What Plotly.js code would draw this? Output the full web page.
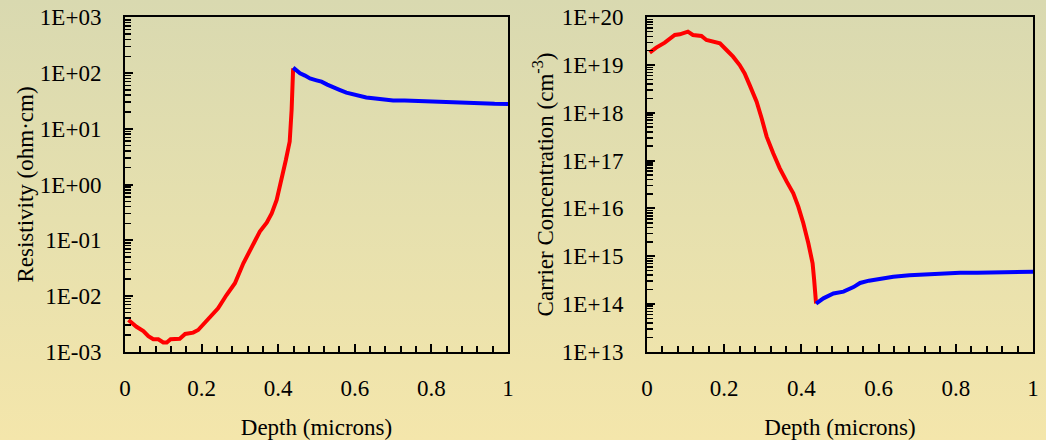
<!DOCTYPE html>
<html>
<head>
<meta charset="utf-8">
<script src="https://cdn.plot.ly/plotly-3.0.1.min.js"></script>
<style>
html,body{margin:0;padding:0;}
body{width:1046px;height:440px;background:linear-gradient(to bottom,#d9d9b0 0%,#e6e0ae 50%,#f4e6ab 100%);}
#chart{width:1046px;height:440px;}
</style>
</head>
<body>
<div id="chart"></div>
<script>
// Resistivity (ohm·cm) vs depth (microns)
const resRedX = [0.009,0.030,0.048,0.061,0.074,0.087,0.100,0.109,0.119,0.143,0.157,0.178,0.191,0.209,0.230,0.243,0.265,0.287,0.309,0.330,0.352,0.370,0.383,0.396,0.409,0.420,0.430,0.435,0.439];
const resRedY = [3.7e-3,2.8e-3,2.35e-3,1.9e-3,1.67e-3,1.67e-3,1.46e-3,1.46e-3,1.67e-3,1.71e-3,2.08e-3,2.2e-3,2.45e-3,3.3e-3,4.9e-3,6.0e-3,1.04e-2,1.69e-2,3.85e-2,7.2e-2,1.43e-1,2.07e-1,3.04e-1,5.3e-1,1.2,2.75,5.9,21.7,122];
const resBlueX = [0.439,0.457,0.470,0.483,0.500,0.513,0.528,0.543,0.560,0.578,0.595,0.613,0.630,0.648,0.675,0.700,0.730,0.761,0.785,0.804,0.840,0.874,0.905,0.935,0.965,1.0];
const resBlueY = [125,99,90,80,74,70,62,55,50,44.5,41.5,38.8,36.5,35.2,33.5,32.0,32.3,31.6,30.8,30.3,29.9,29.4,28.8,28.2,28.0,27.9];

// Carrier concentration (cm^-3) vs depth (microns)
const ccRedX = [0.007,0.024,0.046,0.072,0.085,0.106,0.119,0.141,0.154,0.171,0.189,0.206,0.223,0.240,0.253,0.266,0.284,0.297,0.310,0.327,0.344,0.362,0.379,0.392,0.405,0.418,0.429,0.433,0.438];
const ccRedY = [1.82e19,2.32e19,2.95e19,4.27e19,4.4e19,5.0e19,4.27e19,4.07e19,3.35e19,3.09e19,2.86e19,2.07e19,1.5e19,1.0e19,6.7e18,3.8e18,1.71e18,7.7e17,3.18e17,1.42e17,6.9e16,3.63e16,2.07e16,1.09e16,4.9e15,1.86e15,7.1e14,3.2e14,1.02e14];
const ccBlueX = [0.438,0.457,0.483,0.509,0.535,0.552,0.575,0.595,0.615,0.638,0.680,0.725,0.770,0.811,0.855,0.898,0.950,1.0];
const ccBlueY = [1.02e14,1.31e14,1.66e14,1.81e14,2.25e14,2.75e14,3.07e14,3.27e14,3.5e14,3.72e14,4.0e14,4.24e14,4.35e14,4.52e14,4.5e14,4.59e14,4.65e14,4.74e14];

const resTickVals = [1e-3,1e-2,1e-1,1,1e1,1e2,1e3];
const resTickText = ["1E-03","1E-02","1E-01","1E+00","1E+01","1E+02","1E+03"];
const ccTickVals = [1e13,1e14,1e15,1e16,1e17,1e18,1e19,1e20];
const ccTickText = ["1E+13","1E+14","1E+15","1E+16","1E+17","1E+18","1E+19","1E+20"];
const xTickVals = [0,0.2,0.4,0.6,0.8,1];
const xTickText = ["0","0.2","0.4","0.6","0.8","1"];

function minorLog(lo, hi){
  const out=[];
  for(let e=lo;e<hi;e++){for(let m=2;m<=9;m++){out.push(m*Math.pow(10,e));}}
  return out;
}
const xMinor=[];
for(let i=0;i<=25;i++){xMinor.push(i*0.04);}

const FONT = "Liberation Serif";
const RED = "#ff0000", BLUE = "#0000ff";

const traces = [
  {x:resRedX,y:resRedY,xaxis:'x',yaxis:'y',mode:'lines',line:{color:RED,width:4},hoverinfo:'skip'},
  {x:resBlueX,y:resBlueY,xaxis:'x',yaxis:'y',mode:'lines',line:{color:BLUE,width:4},hoverinfo:'skip'},
  {x:ccRedX,y:ccRedY,xaxis:'x2',yaxis:'y2',mode:'lines',line:{color:RED,width:4},hoverinfo:'skip'},
  {x:ccBlueX,y:ccBlueY,xaxis:'x2',yaxis:'y2',mode:'lines',line:{color:BLUE,width:4},hoverinfo:'skip'}
];

function xAxis(domain, anchor){
  return {
    domain:domain, anchor:anchor, range:[0,1],
    tickmode:'array', tickvals:xTickVals, ticktext:xTickText,
    ticks:'inside', ticklen:8, tickwidth:2, tickcolor:'#000',
    minor:{tickmode:'array', tickvals:xMinor, ticks:'inside', ticklen:6, tickwidth:2, tickcolor:'#000'},
    showline:true, linecolor:'#000', linewidth:2, mirror:true,
    showgrid:false, zeroline:false,
    tickfont:{family:FONT,size:23,color:'#000'},
    ticklabelstandoff:15,
    title:{text:'Depth (microns)', font:{family:FONT,size:23,color:'#000'}, standoff:20}
  };
}
function yAxis(domain, anchor, range, tv, tt, mv, title, st){
  return {
    domain:domain, anchor:anchor, type:'log', range:range,
    tickmode:'array', tickvals:tv, ticktext:tt,
    ticks:'inside', ticklen:8, tickwidth:2, tickcolor:'#000',
    minor:{tickmode:'array', tickvals:mv, ticks:'inside', ticklen:6, tickwidth:1.5, tickcolor:'#000'},
    showline:true, linecolor:'#000', linewidth:2, mirror:true,
    showgrid:false, zeroline:false,
    tickfont:{family:FONT,size:23,color:'#000'},
    ticklabelstandoff:17,
    title:{text:title, font:{family:FONT,size:23,color:'#000'}, standoff:st}
  };
}

const layout = {
  width:1046, height:440,
  margin:{l:0,r:0,t:0,b:0},
  paper_bgcolor:'rgba(0,0,0,0)', plot_bgcolor:'rgba(0,0,0,0)',
  showlegend:false,
  font:{family:FONT,color:'#000'},
  xaxis: xAxis([125/1046, 508/1046], 'y'),
  yaxis: yAxis([88.3/440, 422.7/440], 'x', [-3,3], resTickVals, resTickText, minorLog(-3,3), 'Resistivity (ohm·cm)', 0),
  xaxis2: xAxis([647/1046, 1033/1046], 'y2'),
  yaxis2: yAxis([88.3/440, 422.7/440], 'x2', [13,20], ccTickVals, ccTickText, minorLog(13,20), 'Carrier Concentration (cm<sup>-3</sup>)', 2)
};

Plotly.newPlot('chart', traces, layout, {staticPlot:true, displayModeBar:false});
</script>
</body>
</html>
